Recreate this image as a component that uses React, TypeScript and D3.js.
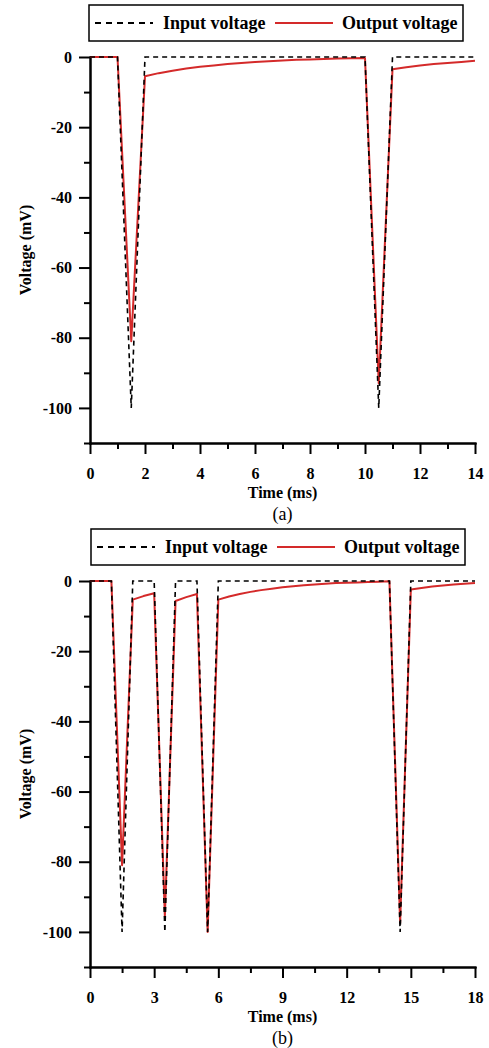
import React, { useEffect, useRef } from "react";
import * as d3 from "d3";

// panel (a)
const inputTimeA = [0, 1, 1.5, 2, 10, 10.5, 11, 14];
const inputVoltA = [0, 0, -100, 0, 0, -100, 0, 0];
const outputTimeA = [
  0, 1, 1.5, 2, 2.5, 3, 3.5, 4, 4.5, 5, 5.5, 6, 6.5, 7, 7.5, 8, 8.5, 9, 9.5, 10,
  10.5, 11, 11.5, 12, 12.5, 13, 13.5, 14,
];
const outputVoltA = [
  0, 0, -81, -5.5, -4.6, -3.9, -3.3, -2.8, -2.4, -2.0, -1.7, -1.4, -1.2, -1.0,
  -0.8, -0.7, -0.55, -0.45, -0.35, -0.3, -93, -3.5, -2.9, -2.4, -2.0, -1.7,
  -1.4, -1.1,
];

// panel (b)
const inputTimeB = [0, 1, 1.5, 2, 3, 3.5, 4, 5, 5.5, 6, 14, 14.5, 15, 18];
const inputVoltB = [0, 0, -100, 0, 0, -100, 0, 0, -100, 0, 0, -100, 0, 0];
const outputTimeB = [
  0, 1, 1.5, 2, 2.5, 3, 3.5, 4, 4.5, 5, 5.5, 6, 6.5, 7, 7.5, 8, 8.5, 9, 9.5, 10,
  10.5, 11, 11.5, 12, 12.5, 13, 13.5, 14, 14.5, 15, 15.5, 16, 16.5, 17, 17.5,
  18,
];
const outputVoltB = [
  0, 0, -81, -5.3, -4.3, -3.5, -95.5, -5.7, -4.6, -3.7, -100, -5.3, -4.4, -3.7,
  -3.1, -2.6, -2.2, -1.8, -1.5, -1.2, -1.0, -0.8, -0.6, -0.5, -0.4, -0.3, -0.2,
  -0.1, -97.5, -2.4, -2.0, -1.6, -1.3, -1.0, -0.8, -0.6,
];

const yMajor = [0, -20, -40, -60, -80, -100];
const yMinor = [-10, -30, -50, -70, -90, -110];
const xMajorA = [0, 2, 4, 6, 8, 10, 12, 14];
const xMinorA = [1, 3, 5, 7, 9, 11, 13];
const xMajorB = [0, 3, 6, 9, 12, 15, 18];
const xMinorB = [1.5, 4.5, 7.5, 10.5, 13.5, 16.5];

const FONT = "Liberation Serif, serif";
const RED = "#d42a2a";

interface PanelProps {
  top: number;
  xMax: number;
  xMajor: number[];
  xMinor: number[];
  inT: number[];
  inV: number[];
  outT: number[];
  outV: number[];
  caption: string;
  legendX: number;
}

const Panel: React.FC<PanelProps> = ({
  top,
  xMax,
  xMajor,
  xMinor,
  inT,
  inV,
  outT,
  outV,
  caption,
  legendX,
}) => {
  const ref = useRef<SVGGElement>(null);

  useEffect(() => {
    const g = d3.select(ref.current);
    const left = 90;
    const right = 475;
    const y0 = top + 57;
    const y1 = top + 443;

    const x = d3.scaleLinear().domain([0, xMax]).range([left, right]);
    const y = d3.scaleLinear().domain([-110, 0]).range([y1, y0]);

    // legend
    const lg = g.append("g");
    lg.append("rect")
      .attr("x", legendX)
      .attr("y", top + 5)
      .attr("width", 374)
      .attr("height", 36)
      .attr("fill", "white")
      .attr("stroke", "black")
      .attr("stroke-width", 1.5);
    const ly = top + 23;
    lg.append("line")
      .attr("x1", legendX + 6)
      .attr("x2", legendX + 64)
      .attr("y1", ly)
      .attr("y2", ly)
      .attr("stroke", "black")
      .attr("stroke-width", 1.8)
      .attr("stroke-dasharray", "6,5");
    lg.append("text")
      .attr("x", legendX + 74)
      .attr("y", ly + 6)
      .style("font-family", FONT)
      .style("font-weight", "bold")
      .style("font-size", "18px")
      .text("Input voltage");
    lg.append("line")
      .attr("x1", legendX + 186)
      .attr("x2", legendX + 244)
      .attr("y1", ly)
      .attr("y2", ly)
      .attr("stroke", RED)
      .attr("stroke-width", 2);
    lg.append("text")
      .attr("x", legendX + 253)
      .attr("y", ly + 6)
      .style("font-family", FONT)
      .style("font-weight", "bold")
      .style("font-size", "18px")
      .text("Output voltage");

    // axes
    const styleAxis = (sel: any) => {
      sel.attr("font-family", null).attr("font-size", null);
      sel.select(".domain").attr("stroke-width", 2);
      sel.selectAll(".tick line").attr("stroke-width", 2);
      sel
        .selectAll("text")
        .style("font-family", FONT)
        .style("font-weight", "bold")
        .style("font-size", "16px")
        .attr("fill", "black");
    };
    const fmt = (d: any) => String(d);

    g.append("g")
      .attr("transform", `translate(${left},0)`)
      .call(d3.axisLeft(y).tickValues(yMinor).tickSize(6).tickSizeOuter(0).tickFormat(() => ""))
      .call(styleAxis);
    g.append("g")
      .attr("transform", `translate(${left},0)`)
      .call(d3.axisLeft(y).tickValues(yMajor).tickSize(11).tickSizeOuter(0).tickPadding(7).tickFormat(fmt))
      .call(styleAxis);

    g.append("g")
      .attr("transform", `translate(0,${y1})`)
      .call(d3.axisBottom(x).tickValues(xMinor).tickSize(6).tickSizeOuter(0).tickFormat(() => ""))
      .call(styleAxis);
    g.append("g")
      .attr("transform", `translate(0,${y1})`)
      .call(d3.axisBottom(x).tickValues(xMajor).tickSize(11).tickSizeOuter(0).tickPadding(14).tickFormat(fmt))
      .call(styleAxis);

    g.selectAll(".domain").attr("stroke-linecap", "square");

    // axis titles
    g.append("text")
      .attr("x", (left + right) / 2)
      .attr("y", y1 + 55)
      .attr("text-anchor", "middle")
      .style("font-family", FONT)
      .style("font-weight", "bold")
      .style("font-size", "16px")
      .text("Time (ms)");
    g.append("text")
      .attr("transform", `translate(31,${(y0 + y1) / 2}) rotate(-90)`)
      .attr("text-anchor", "middle")
      .style("font-family", FONT)
      .style("font-weight", "bold")
      .style("font-size", "16px")
      .text("Voltage (mV)");
    g.append("text")
      .attr("x", (left + right) / 2)
      .attr("y", y1 + 77)
      .attr("text-anchor", "middle")
      .style("font-family", FONT)
      .style("font-size", "18px")
      .text(caption);

    // series
    const outPts = outT.map((t, i) => [x(t), y(outV[i])] as [number, number]);
    const inPts = inT.map((t, i) => [x(t), y(inV[i])] as [number, number]);
    const path = d3.line();

    g.append("path")
      .attr("d", path(outPts))
      .attr("fill", "none")
      .attr("stroke", RED)
      .attr("stroke-width", 2)
      .attr("stroke-linejoin", "round");
    g.append("path")
      .attr("d", path(inPts))
      .attr("fill", "none")
      .attr("stroke", "black")
      .attr("stroke-width", 1.6)
      .attr("stroke-dasharray", "5,4");

    return () => {
      g.selectAll("*").remove();
    };
  }, [top]);

  return <g ref={ref} />;
};

const App: React.FC = () => {
  return (
    <svg
      width={489}
      height={1048}
      style={{ position: "absolute", left: 0, top: 0, background: "white" }}
    >
      <rect width={489} height={1048} fill="white" />
      <Panel
        top={0}
        xMax={14}
        xMajor={xMajorA}
        xMinor={xMinorA}
        inT={inputTimeA}
        inV={inputVoltA}
        outT={outputTimeA}
        outV={outputVoltA}
        caption="(a)"
        legendX={89}
      />
      <Panel
        top={524}
        xMax={18}
        xMajor={xMajorB}
        xMinor={xMinorB}
        inT={inputTimeB}
        inV={inputVoltB}
        outT={outputTimeB}
        outV={outputVoltB}
        caption="(b)"
        legendX={91}
      />
    </svg>
  );
};

export default App;
